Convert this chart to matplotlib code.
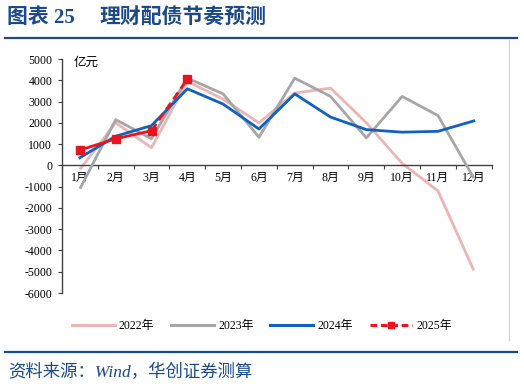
import matplotlib
matplotlib.use("Agg")
import matplotlib.pyplot as plt
from matplotlib.lines import Line2D

plt.rcParams['font.family'] = ['Liberation Serif', 'Noto Sans CJK SC', 'DejaVu Sans']

months = ['1月', '2月', '3月', '4月', '5月', '6月', '7月', '8月', '9月', '10月', '11月', '12月']
s2022 = [-190, 2000, 830, 3950, 3110, 2000, 3400, 3630, 2000, 90, -1200, -4940]
s2023 = [-1100, 2150, 1250, 4100, 3360, 1320, 4100, 3240, 1290, 3240, 2340, -600]
s2024 = [360, 1370, 1870, 3600, 2880, 1710, 3360, 2270, 1680, 1560, 1600, 2090]
s2025 = [720, 1250, 1630, 4050]
yticks = list(range(-6000, 5001, 1000))
labels = ['2022年', '2023年', '2024年', '2025年']

c22, c23, c24, c25 = '#EBB5B5', '#A6A6A6', '#0F62BE', '#E8141E'
navy = '#1B4A8A'

fig = plt.figure(figsize=(5.24, 3.87), dpi=100)
ax = fig.add_axes([62/524, 1-293/387, 429.7/524, 234/387])

x = [i + 0.5 for i in range(12)]
ax.plot(x, s2022, color=c22, lw=2.0, solid_capstyle='butt', zorder=2)
ax.plot(x, s2023, color=c23, lw=2.0, solid_capstyle='butt', zorder=3)
ax.plot(x, s2024, color=c24, lw=2.0, zorder=4)
ax.plot(x[:3], s2025[:3], color=c25, lw=2.0, zorder=5)
ax.plot(x[2:4], s2025[2:4], color=c25, lw=2.0, ls=(0, (3, 1.6)), zorder=5)
ax.plot(x[:4], s2025, color=c25, lw=0, marker='s', ms=6, zorder=6)

ax.set_xlim(0, 12)
ax.set_ylim(-6000, 5000)
for s in ['top', 'right']:
    ax.spines[s].set_visible(False)
ax.spines['bottom'].set_position(('data', 0))
for s in ['left', 'bottom']:
    ax.spines[s].set_color('#404040')
    ax.spines[s].set_linewidth(1.0)

ax.set_yticks(yticks)
ax.set_yticklabels([str(v) for v in yticks])
ax.tick_params(axis='y', direction='out', length=3, width=0.8, color='#404040', pad=4, labelsize=8.5)
ax.set_xticks(range(13))
ax.set_xticklabels([''] * 13)
ax.tick_params(axis='x', which='major', direction='out', length=3, width=0.8, color='#404040')
ax.set_xticks(x, minor=True)
ax.set_xticklabels(months, minor=True)
ax.tick_params(axis='x', which='minor', length=0, pad=5, labelsize=8.5)

ax.text(0.026, 0.985, '亿元', transform=ax.transAxes, fontsize=9, va='center', ha='left')

handles = [
    Line2D([], [], color=c22, lw=2.2),
    Line2D([], [], color=c23, lw=2.2),
    Line2D([], [], color=c24, lw=2.2),
    Line2D([], [], color=c25, lw=2.2, ls=(0, (2.2, 1.2)), marker='s', ms=5),
]
fig.legend(handles, labels, loc='center', bbox_to_anchor=(0.5, 1-326/387), ncol=4,
           frameon=False, fontsize=8.5, handlelength=3.6, handletextpad=0.35,
           columnspacing=1.45, numpoints=1)

# title and decorations
fig.text(7/524, 1-18/387, '图表 25', fontsize=15, fontweight='bold', color=navy, va='center', ha='left')
fig.text(100/524, 1-18/387, '理财配债节奏预测', fontsize=15, fontweight='bold', color=navy, va='center', ha='left')
fig.add_artist(Line2D([5/524, 517/524], [1-38/387, 1-38/387], color=navy, lw=1.6))
fig.add_artist(Line2D([5/524, 517/524], [1-352/387, 1-352/387], color=navy, lw=1.6))
fig.add_artist(Line2D([509/524, 509/524], [1-40/387, 1-340/387], color='#D0D0D0', lw=0.8))
fig.text(8/524, 1-373/387, '资料来源：Wind，华创证券测算', fontsize=12.5, style='italic', color=navy,
         va='center', ha='left')

fig.savefig('out.png', dpi=100)
